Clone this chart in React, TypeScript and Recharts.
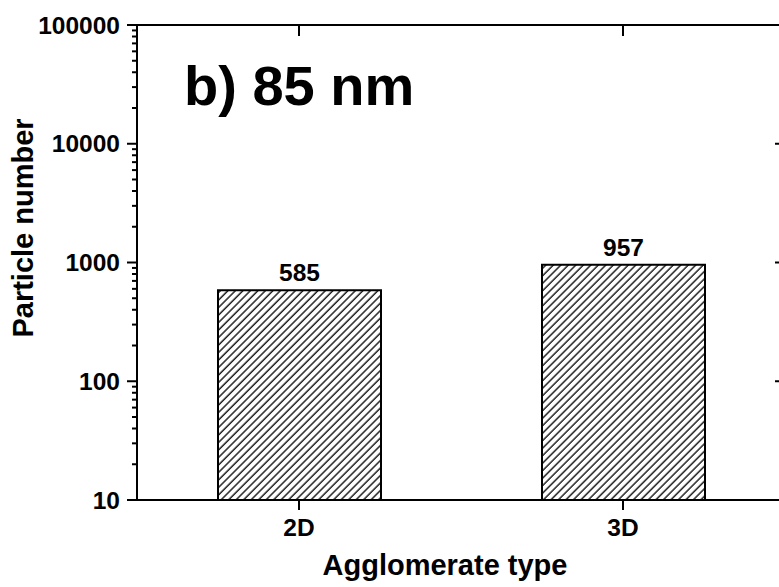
import { Bar, BarChart, Label, LabelList, XAxis, YAxis } from 'recharts';

const categories = ['2D', '3D'];
const particleCounts = [585, 957];
const majorTicks = [10, 100, 1000, 10000, 100000];
const minorTicks = [
  20, 30, 40, 50, 60, 70, 80, 90,
  200, 300, 400, 500, 600, 700, 800, 900,
  2000, 3000, 4000, 5000, 6000, 7000, 8000, 9000,
  20000, 30000, 40000, 50000, 60000, 70000, 80000, 90000,
];

const data = categories.map((name, i) => ({ name, count: particleCounts[i] }));
const allTicks = [...majorTicks, ...minorTicks].sort((a, b) => a - b);

const FONT = "'Liberation Sans', Arial, sans-serif";
const isMajor = (v: number) => majorTicks.includes(v);

function LeftTick({ x, y, payload }: any) {
  const major = isMajor(payload.value);
  return (
    <g>
      <line x1={x} x2={x - (major ? 10 : 5)} y1={y} y2={y} stroke="#000" strokeWidth={2} />
      {major && (
        <text
          x={x - 17}
          y={y}
          dy="0.355em"
          textAnchor="end"
          fontFamily={FONT}
          fontWeight="bold"
          fontSize={24.5}
          fill="#000"
        >
          {payload.value}
        </text>
      )}
    </g>
  );
}

function RightTick({ x, y, payload }: any) {
  const major = isMajor(payload.value);
  return <line x1={x} x2={x - (major ? 10 : 5)} y1={y} y2={y} stroke="#000" strokeWidth={2} />;
}

function TopTick({ x, y }: any) {
  return <line x1={x} x2={x} y1={y} y2={y + 11} stroke="#000" strokeWidth={2} />;
}

export default function App() {
  return (
    <div
      style={{
        position: 'fixed',
        left: 0,
        top: 0,
        width: 779,
        height: 587,
        overflow: 'hidden',
        background: '#fff',
      }}
    >
      <BarChart
        width={800}
        height={587}
        data={data}
        margin={{ top: 24, right: 14, bottom: 0, left: 0 }}
        barCategoryGap="0%"
      >
        <defs>
          <pattern
            id="hatch"
            patternUnits="userSpaceOnUse"
            width={5.3}
            height={5.3}
            patternTransform="rotate(45)"
          >
            <rect width={5.3} height={5.3} fill="#fff" />
            <line x1={1} y1={0} x2={1} y2={5.3} stroke="#000" strokeWidth={1.3} />
          </pattern>
        </defs>
        <XAxis
          xAxisId="bottom"
          dataKey="name"
          height={87}
          axisLine={{ stroke: '#000', strokeWidth: 2 }}
          tickLine={{ stroke: '#000', strokeWidth: 2 }}
          tickSize={10}
          tickMargin={9}
          tick={{ fill: '#000', fontSize: 24.5, fontWeight: 'bold', fontFamily: FONT }}
        >
          <Label
            content={() => (
              <text
                x={445}
                y={575}
                textAnchor="middle"
                fontFamily={FONT}
                fontWeight="bold"
                fontSize={29}
                fill="#000"
              >
                Agglomerate type
              </text>
            )}
          />
        </XAxis>
        <XAxis
          xAxisId="top"
          dataKey="name"
          orientation="top"
          height={1}
          axisLine={{ stroke: '#000', strokeWidth: 2 }}
          tickLine={false}
          tickSize={0}
          tickMargin={0}
          tick={<TopTick />}
        />
        <YAxis
          yAxisId="left"
          scale="log"
          domain={[10, 100000]}
          allowDataOverflow
          ticks={allTicks}
          interval={0}
          width={137}
          axisLine={{ stroke: '#000', strokeWidth: 2 }}
          tickLine={false}
          tickSize={0}
          tickMargin={0}
          tick={<LeftTick />}
        >
          <Label
            content={() => (
              <text
                x={33}
                y={228}
                transform="rotate(-90 33 228)"
                textAnchor="middle"
                fontFamily={FONT}
                fontWeight="bold"
                fontSize={29}
                fill="#000"
              >
                Particle number
              </text>
            )}
          />
        </YAxis>
        <YAxis
          yAxisId="right"
          orientation="right"
          scale="log"
          domain={[10, 100000]}
          allowDataOverflow
          ticks={allTicks}
          interval={0}
          width={1}
          axisLine={{ stroke: '#000', strokeWidth: 2 }}
          tickLine={false}
          tickSize={0}
          tickMargin={0}
          tick={<RightTick />}
        />
        <Bar
          xAxisId="bottom"
          yAxisId="left"
          dataKey="count"
          barSize={163}
          fill="url(#hatch)"
          stroke="#000"
          strokeWidth={2}
          isAnimationActive={false}
        >
          <LabelList
            dataKey="count"
            position="top"
            offset={9}
            fill="#000"
            fontSize={24.5}
            fontWeight="bold"
            fontFamily={FONT}
          />
        </Bar>
      </BarChart>
      <svg
        width={779}
        height={587}
        style={{ position: 'absolute', left: 0, top: 0, pointerEvents: 'none' }}
      >
        <text x={184} y={105} fontFamily={FONT} fontWeight="bold" fontSize={56} fill="#000">
          b) 85 nm
        </text>
      </svg>
    </div>
  );
}
